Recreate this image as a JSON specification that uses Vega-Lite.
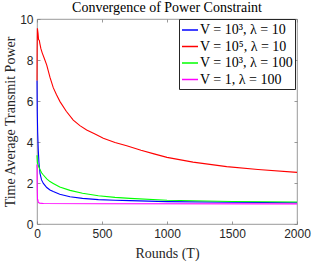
{
  "$schema": "https://vega.github.io/schema/vega-lite/v6.json",
  "width": 260,
  "height": 205,
  "autosize": {"type": "none"},
  "padding": {"left": 37, "top": 19, "right": 15, "bottom": 44},
  "background": "white",
  "title": {"text": "Convergence of Power Constraint", "font": "Liberation Serif", "fontSize": 14, "fontWeight": "normal", "color": "#000000", "anchor": "middle", "offset": -2},
  "config": {
    "view": {"stroke": "#808080", "strokeWidth": 0.8},
    "axis": {"grid": false, "domain": false, "tickColor": "#808080", "tickSize": -3, "tickWidth": 0.8, "labelFont": "Liberation Sans", "labelFontSize": 12, "labelColor": "#262626", "labelFlush": false, "titleFont": "Liberation Serif", "titleFontSize": 14, "titleFontWeight": "normal", "titleColor": "#262626"}
  },
  "data": {"values": [
    {"T": 0, "v": 7.0, "s": "V = 10³, λ = 10"},
    {"T": 2, "v": 5.5, "s": "V = 10³, λ = 10"},
    {"T": 5, "v": 4.5, "s": "V = 10³, λ = 10"},
    {"T": 10, "v": 3.6, "s": "V = 10³, λ = 10"},
    {"T": 15, "v": 3.0, "s": "V = 10³, λ = 10"},
    {"T": 23, "v": 2.47, "s": "V = 10³, λ = 10"},
    {"T": 35, "v": 2.15, "s": "V = 10³, λ = 10"},
    {"T": 49, "v": 1.98, "s": "V = 10³, λ = 10"},
    {"T": 75, "v": 1.78, "s": "V = 10³, λ = 10"},
    {"T": 100, "v": 1.66, "s": "V = 10³, λ = 10"},
    {"T": 125, "v": 1.58, "s": "V = 10³, λ = 10"},
    {"T": 175, "v": 1.45, "s": "V = 10³, λ = 10"},
    {"T": 254, "v": 1.33, "s": "V = 10³, λ = 10"},
    {"T": 350, "v": 1.25, "s": "V = 10³, λ = 10"},
    {"T": 472, "v": 1.19, "s": "V = 10³, λ = 10"},
    {"T": 600, "v": 1.16, "s": "V = 10³, λ = 10"},
    {"T": 715, "v": 1.14, "s": "V = 10³, λ = 10"},
    {"T": 1000, "v": 1.09, "s": "V = 10³, λ = 10"},
    {"T": 1500, "v": 1.06, "s": "V = 10³, λ = 10"},
    {"T": 2000, "v": 1.04, "s": "V = 10³, λ = 10"},
    {"T": 0, "v": 7.0, "s": "V = 10⁵, λ = 10"},
    {"T": 1, "v": 8.5, "s": "V = 10⁵, λ = 10"},
    {"T": 3, "v": 9.55, "s": "V = 10⁵, λ = 10"},
    {"T": 8, "v": 9.3, "s": "V = 10⁵, λ = 10"},
    {"T": 12, "v": 9.0, "s": "V = 10⁵, λ = 10"},
    {"T": 18, "v": 8.95, "s": "V = 10⁵, λ = 10"},
    {"T": 22, "v": 8.8, "s": "V = 10⁵, λ = 10"},
    {"T": 30, "v": 8.55, "s": "V = 10⁵, λ = 10"},
    {"T": 40, "v": 8.35, "s": "V = 10⁵, λ = 10"},
    {"T": 55, "v": 8.1, "s": "V = 10⁵, λ = 10"},
    {"T": 75, "v": 7.75, "s": "V = 10⁵, λ = 10"},
    {"T": 100, "v": 7.15, "s": "V = 10⁵, λ = 10"},
    {"T": 125, "v": 6.65, "s": "V = 10⁵, λ = 10"},
    {"T": 150, "v": 6.3, "s": "V = 10⁵, λ = 10"},
    {"T": 177, "v": 5.97, "s": "V = 10⁵, λ = 10"},
    {"T": 225, "v": 5.5, "s": "V = 10⁵, λ = 10"},
    {"T": 279, "v": 5.07, "s": "V = 10⁵, λ = 10"},
    {"T": 330, "v": 4.8, "s": "V = 10⁵, λ = 10"},
    {"T": 382, "v": 4.59, "s": "V = 10⁵, λ = 10"},
    {"T": 450, "v": 4.38, "s": "V = 10⁵, λ = 10"},
    {"T": 510, "v": 4.18, "s": "V = 10⁵, λ = 10"},
    {"T": 600, "v": 3.98, "s": "V = 10⁵, λ = 10"},
    {"T": 690, "v": 3.82, "s": "V = 10⁵, λ = 10"},
    {"T": 800, "v": 3.6, "s": "V = 10⁵, λ = 10"},
    {"T": 900, "v": 3.42, "s": "V = 10⁵, λ = 10"},
    {"T": 1000, "v": 3.25, "s": "V = 10⁵, λ = 10"},
    {"T": 1200, "v": 3.02, "s": "V = 10⁵, λ = 10"},
    {"T": 1459, "v": 2.8, "s": "V = 10⁵, λ = 10"},
    {"T": 1700, "v": 2.66, "s": "V = 10⁵, λ = 10"},
    {"T": 2000, "v": 2.52, "s": "V = 10⁵, λ = 10"},
    {"T": 0, "v": 3.35, "s": "V = 10³, λ = 100"},
    {"T": 3, "v": 3.0, "s": "V = 10³, λ = 100"},
    {"T": 10, "v": 2.85, "s": "V = 10³, λ = 100"},
    {"T": 20, "v": 2.7, "s": "V = 10³, λ = 100"},
    {"T": 35, "v": 2.5, "s": "V = 10³, λ = 100"},
    {"T": 49, "v": 2.39, "s": "V = 10³, λ = 100"},
    {"T": 75, "v": 2.2, "s": "V = 10³, λ = 100"},
    {"T": 100, "v": 2.07, "s": "V = 10³, λ = 100"},
    {"T": 125, "v": 1.98, "s": "V = 10³, λ = 100"},
    {"T": 175, "v": 1.8, "s": "V = 10³, λ = 100"},
    {"T": 254, "v": 1.64, "s": "V = 10³, λ = 100"},
    {"T": 350, "v": 1.5, "s": "V = 10³, λ = 100"},
    {"T": 472, "v": 1.38, "s": "V = 10³, λ = 100"},
    {"T": 600, "v": 1.3, "s": "V = 10³, λ = 100"},
    {"T": 715, "v": 1.25, "s": "V = 10³, λ = 100"},
    {"T": 1000, "v": 1.16, "s": "V = 10³, λ = 100"},
    {"T": 1500, "v": 1.1, "s": "V = 10³, λ = 100"},
    {"T": 2000, "v": 1.07, "s": "V = 10³, λ = 100"},
    {"T": 0, "v": 2.9, "s": "V = 1, λ = 100"},
    {"T": 2, "v": 1.6, "s": "V = 1, λ = 100"},
    {"T": 4, "v": 1.15, "s": "V = 1, λ = 100"},
    {"T": 6, "v": 1.2, "s": "V = 1, λ = 100"},
    {"T": 10, "v": 1.05, "s": "V = 1, λ = 100"},
    {"T": 20, "v": 1.02, "s": "V = 1, λ = 100"},
    {"T": 50, "v": 1.0, "s": "V = 1, λ = 100"},
    {"T": 500, "v": 0.99, "s": "V = 1, λ = 100"},
    {"T": 2000, "v": 0.98, "s": "V = 1, λ = 100"}
  ]},
  "layer": [
    {
      "mark": {"type": "line", "strokeWidth": 1.1},
      "encoding": {
        "x": {"field": "T", "type": "quantitative", "scale": {"domain": [0, 2000], "nice": false, "zero": false}, "axis": {"title": "Rounds (T)", "values": [0, 500, 1000, 1500, 2000], "format": "d", "labelPadding": 7, "titlePadding": 7}},
        "y": {"field": "v", "type": "quantitative", "scale": {"domain": [0, 10], "nice": false}, "axis": {"title": "Time Average Transmit Power", "values": [0, 2, 4, 6, 8, 10], "labelPadding": 7, "titlePadding": 2}},
        "color": {"field": "s", "type": "nominal", "sort": ["V = 10³, λ = 10", "V = 10⁵, λ = 10", "V = 10³, λ = 100", "V = 1, λ = 100"], "scale": {"domain": ["V = 10³, λ = 10", "V = 10⁵, λ = 10", "V = 10³, λ = 100", "V = 1, λ = 100"], "range": ["#0000FF", "#FF0000", "#00FF00", "#FF00FF"]},
          "legend": {"title": null, "orient": "none", "legendX": 142, "legendY": 0, "symbolType": "stroke", "symbolSize": 256, "symbolStrokeWidth": 1.5, "labelFont": "Liberation Serif", "labelFontSize": 14, "labelColor": "#000000", "rowPadding": 0.5, "symbolOffset": 0, "labelOffset": 1, "padding": 2, "strokeColor": "#262626", "fillColor": "white", "labelLimit": 200}},
        "order": {"field": "T", "type": "quantitative"}
      }
    },
    {
      "mark": {"type": "point", "opacity": 0},
      "encoding": {
        "x": {"field": "T", "type": "quantitative", "axis": {"orient": "top", "title": null, "labels": false, "values": [0, 500, 1000, 1500, 2000]}},
        "y": {"field": "v", "type": "quantitative", "axis": {"orient": "right", "title": null, "labels": false, "values": [0, 2, 4, 6, 8, 10]}}
      }
    }
  ],
  "resolve": {"axis": {"x": "independent", "y": "independent"}}
}
